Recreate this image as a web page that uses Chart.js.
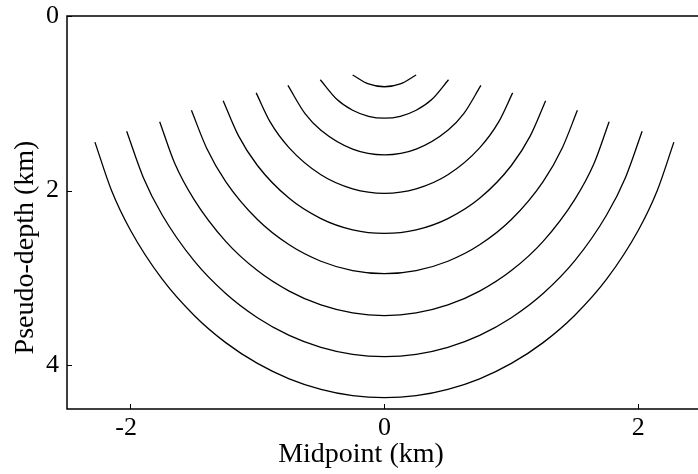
<!DOCTYPE html>
<html>
<head>
<meta charset="utf-8">
<script src="https://cdn.jsdelivr.net/npm/chart.js@4"></script>
<style>
  html, body { margin: 0; padding: 0; background: #fff; overflow: hidden; }
  #wrap { width: 698px; height: 474px; }
</style>
</head>
<body>
<div id="wrap"><canvas id="fronts"></canvas></div>
<script>
// Wavefronts, shallow to deep: midpoint (km) and pseudo-depth (km) of each traced point
const front1X = [-0.25, -0.125, 0, 0.125, 0.25];
const front1Z = [0.675, 0.778, 0.81, 0.778, 0.675];

const front2X = [-0.505, -0.375, -0.25, -0.125, 0, 0.125, 0.25, 0.375, 0.505];
const front2Z = [0.73, 0.953, 1.079, 1.148, 1.17, 1.148, 1.079, 0.953, 0.73];

const front3X = [-0.76, -0.625, -0.5, -0.25, 0, 0.25, 0.5, 0.625, 0.76];
const front3Z = [0.795, 1.118, 1.308, 1.524, 1.59, 1.524, 1.308, 1.118, 0.795];

const front4X = [-1.01, -0.9, -0.75, -0.5, -0.25, 0, 0.25, 0.5, 0.75, 0.9, 1.01];
const front4Z = [0.88, 1.213, 1.51, 1.818, 1.979, 2.03, 1.979, 1.818, 1.51, 1.213, 0.88];

const front5X = [-1.27, -1.15, -1.0, -0.75, -0.5, -0.25, 0, 0.25, 0.5, 0.75, 1.0, 1.15, 1.27];
const front5Z = [0.97, 1.37, 1.712, 2.088, 2.32, 2.449, 2.49, 2.449, 2.32, 2.088, 1.712, 1.37, 0.97];

const front6X = [-1.52, -1.4, -1.25, -1.0, -0.75, -0.5, -0.25, 0, 0.25, 0.5, 0.75, 1.0, 1.25, 1.4, 1.52];
const front6Z = [1.08, 1.514, 1.896, 2.331, 2.62, 2.808, 2.915, 2.95, 2.915, 2.808, 2.62, 2.331, 1.896, 1.514, 1.08];

const front7X = [-1.77, -1.65, -1.5, -1.25, -1.0, -0.75, -0.5, -0.25, 0, 0.25, 0.5, 0.75, 1.0, 1.25, 1.5, 1.65, 1.77];
const front7Z = [1.21, 1.692, 2.099, 2.58, 2.915, 3.15, 3.309, 3.4, 3.43, 3.4, 3.309, 3.15, 2.915, 2.58, 2.099, 1.692, 1.21];

const front8X = [-2.03, -1.9, -1.75, -1.5, -1.25, -1.0, -0.75, -0.5, -0.25, 0, 0.25, 0.5, 0.75, 1.0, 1.25, 1.5, 1.75, 1.9, 2.03];
const front8Z = [1.32, 1.845, 2.279, 2.802, 3.178, 3.455, 3.657, 3.794, 3.874, 3.9, 3.874, 3.794, 3.657, 3.455, 3.178, 2.802, 2.279, 1.845, 1.32];

const front9X = [-2.28, -2.15, -2.0, -1.75, -1.5, -1.25, -1.0, -0.75, -0.5, -0.25, 0, 0.25, 0.5, 0.75, 1.0, 1.25, 1.5, 1.75, 2.0, 2.15, 2.28];
const front9Z = [1.444, 1.995, 2.453, 3.014, 3.426, 3.74, 3.978, 4.154, 4.275, 4.347, 4.37, 4.347, 4.275, 4.154, 3.978, 3.74, 3.426, 3.014, 2.453, 1.995, 1.444];

const xTicks = [-2, 0, 2];
const yTicks = [0, 2, 4];

const fronts = [
  [front1X, front1Z], [front2X, front2Z], [front3X, front3Z],
  [front4X, front4Z], [front5X, front5Z], [front6X, front6Z],
  [front7X, front7Z], [front8X, front8Z], [front9X, front9Z]
];

const serif = "'Liberation Serif', 'DejaVu Serif', serif";
const tickFont = '26px ' + serif;

// frame on three sides, inward tick marks, midpoint labels and axis titles
const framePlugin = {
  id: 'frame',
  afterDraw(chart) {
    const { ctx, chartArea: a, scales } = chart;
    ctx.save();
    ctx.strokeStyle = '#000';
    ctx.lineWidth = 1.5;
    ctx.beginPath();
    ctx.moveTo(a.right + 2, a.top);
    ctx.lineTo(a.left, a.top);
    ctx.lineTo(a.left, a.bottom);
    ctx.lineTo(a.right + 2, a.bottom);
    ctx.stroke();

    ctx.lineWidth = 1;
    ctx.beginPath();
    xTicks.forEach(v => {
      const px = Math.round(scales.x.getPixelForValue(v)) + 0.5;
      ctx.moveTo(px, a.bottom);
      ctx.lineTo(px, a.bottom - 5);
    });
    yTicks.forEach(v => {
      const py = Math.round(scales.y.getPixelForValue(v)) + 0.5;
      ctx.moveTo(a.left, py);
      ctx.lineTo(a.left + 5, py);
    });
    ctx.stroke();

    // midpoint labels: digits centred on the tick, a minus sign hangs to the left
    ctx.fillStyle = '#000';
    ctx.font = tickFont;
    ctx.textBaseline = 'alphabetic';
    ctx.textAlign = 'right';
    xTicks.forEach(v => {
      const digits = String(Math.abs(v));
      const px = scales.x.getPixelForValue(v);
      const w = ctx.measureText(digits).width;
      ctx.fillText((v < 0 ? '-' : '') + digits, px + w / 2, a.bottom + 26);
    });

    ctx.textAlign = 'center';
    ctx.font = '28px ' + serif;
    ctx.fillText('Midpoint (km)', 361, 462);

    ctx.translate(33, 247.5);
    ctx.rotate(-Math.PI / 2);
    ctx.fillText('Pseudo-depth (km)', 0, 0);
    ctx.restore();
  }
};

new Chart(document.getElementById('fronts'), {
  type: 'scatter',
  data: {
    datasets: fronts.map(([xs, zs], i) => ({
      label: 'front ' + (i + 1),
      data: xs.map((x, j) => ({ x, y: zs[j] })),
      showLine: true,
      borderColor: '#000',
      borderWidth: 1.3,
      pointRadius: 0,
      cubicInterpolationMode: 'monotone',
      fill: false
    }))
  },
  options: {
    responsive: true,
    maintainAspectRatio: false,
    animation: false,
    layout: { padding: { top: 16, right: 0, bottom: 0, left: 0 } },
    plugins: { legend: { display: false }, tooltip: { enabled: false } },
    scales: {
      x: {
        type: 'linear',
        min: -2.5,
        max: 2.47,
        afterBuildTicks: s => { s.ticks = xTicks.map(v => ({ value: v })); },
        afterFit: s => { s.height = 65; s.paddingLeft = 0; s.paddingRight = 0; },
        grid: { display: false, drawTicks: false },
        border: { display: false },
        ticks: { display: false }
      },
      y: {
        type: 'linear',
        reverse: true,
        min: 0,
        max: 4.5,
        afterBuildTicks: s => { s.ticks = yTicks.map(v => ({ value: v })); },
        afterFit: s => { s.width = 67; s.paddingTop = 0; s.paddingBottom = 0; },
        grid: { display: false, drawTicks: false },
        border: { display: false },
        ticks: { color: '#000', padding: 8, font: { family: serif, size: 26 } }
      }
    }
  },
  plugins: [framePlugin]
});
</script>
</body>
</html>
